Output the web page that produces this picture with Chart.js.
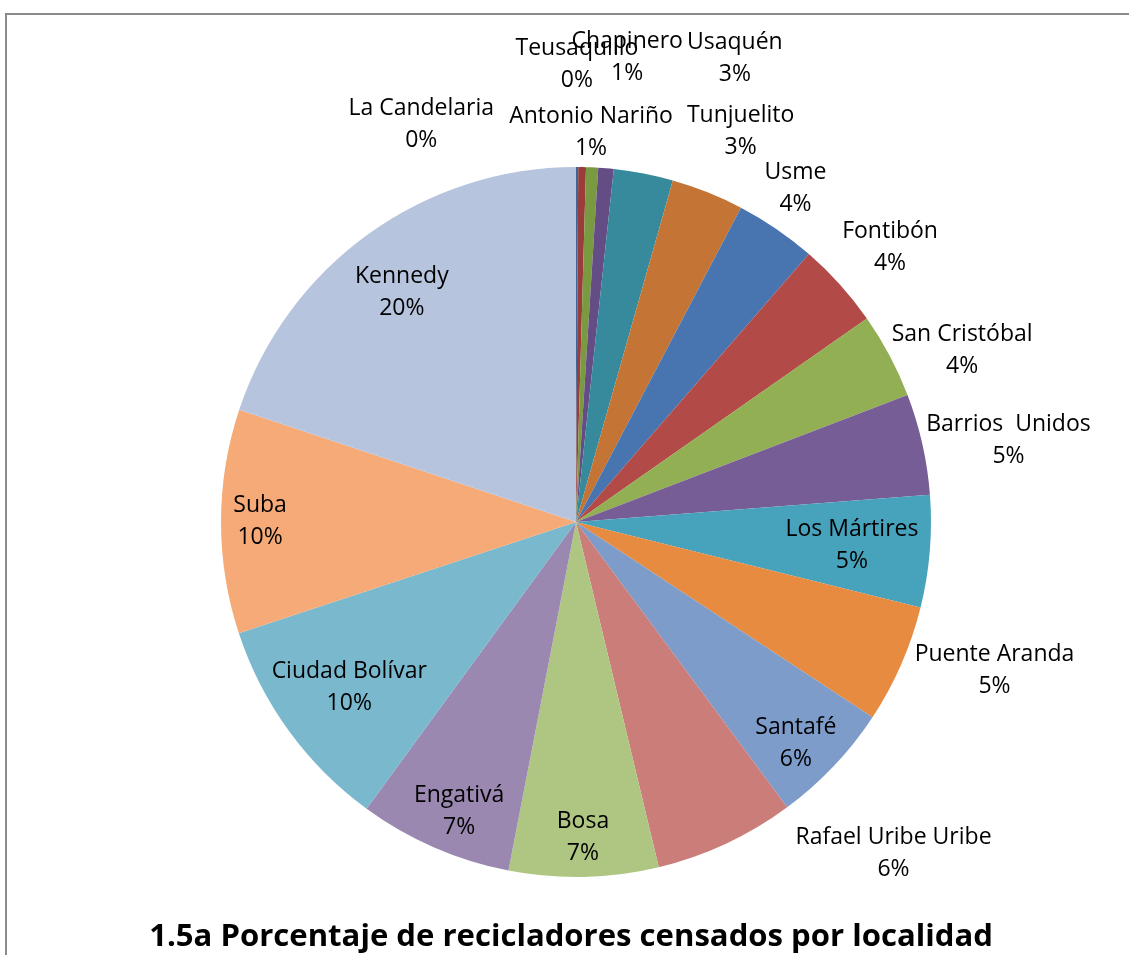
<!DOCTYPE html>
<html>
<head>
<meta charset="utf-8">
<script src="https://cdn.jsdelivr.net/npm/chart.js@4.4.1/dist/chart.umd.min.js"></script>
<style>
  body{margin:0;background:#fff;}
  #wrap{position:relative;width:1129px;height:955px;overflow:hidden;}
</style>
</head>
<body>
<div id="wrap"><canvas id="myChart" width="1129" height="955"></canvas></div>
<script>
// localidades, en el orden del pastel (sentido horario desde arriba)
const localidades = ['La Candelaria','Teusaquillo','Chapinero','Antonio Nariño','Usaquén','Tunjuelito',
  'Usme','Fontibón','San Cristóbal','Barrios  Unidos','Los Mártires','Puente Aranda','Santafé',
  'Rafael Uribe Uribe','Bosa','Engativá','Ciudad Bolívar','Suba','Kennedy'];
// porcentaje de recicladores
const porcentajes = [0.1, 0.35, 0.55, 0.7, 2.7, 3.3, 3.7, 3.9, 3.9, 4.6, 5.1, 5.4, 5.6, 6.4, 6.8, 7.0, 9.9, 10.2, 19.9];
const colores = ['#3D6599','#9A3D3A','#7A9A42','#644D84','#378A9C','#C47535','#4875B0','#B24B48','#93AF53',
  '#775D96','#47A2BB','#E78B40','#7E9CCA','#CB7D7A','#AEC681','#9B88B1','#7AB8CE','#F6AA77','#B7C4DE'];
const titulo = '1.5a Porcentaje de recicladores censados por localidad';

// donde va cada etiqueta: [factor de radio, dx, dy]
const posEtiqueta = [
  [1.12,-156,0],[1.29,-7,0],[1.31,30,0],[1.10,-18,0],[1.33,69,0],[1.19,8,2],
  [1.126,-6,-4],[1.175,4,4],[1.19,13,27],[1.24,3,15],[0.78,0,0],[1.25,12,-30],[0.88,-7,7],
  [1.29,124,-84],[0.89,0,0],[0.88,8,3],[0.79,0,0],[0.89,0,0],[0.81,-6,4]
];

const fuente = '"Open Sans", Lato, sans-serif';

// marco gris del area del grafico
const marco = {
  id:'marco',
  beforeDraw(chart){
    const c = chart.ctx;
    c.save();
    c.fillStyle = '#fff';
    c.fillRect(0,0,chart.width,chart.height);
    c.strokeStyle = '#8a8a8a';
    c.lineWidth = 2;
    c.beginPath();
    c.moveTo(6, chart.height);
    c.lineTo(6, 14);
    c.lineTo(chart.width, 14);
    c.stroke();
    c.restore();
  }
};

// etiquetas de datos y titulo
const etiquetas = {
  id:'etiquetas',
  afterDatasetsDraw(chart){
    const c = chart.ctx;
    const meta = chart.getDatasetMeta(0);
    const total = porcentajes.reduce((a,b)=>a+b,0);
    c.save();
    c.fillStyle = '#000';
    c.textAlign = 'center';
    c.textBaseline = 'middle';
    c.font = '23px ' + fuente;
    meta.data.forEach(function(arc,i){
      const p = arc.getProps(['x','y','startAngle','endAngle','outerRadius'],true);
      const ang = (p.startAngle + p.endAngle)/2;
      const pos = posEtiqueta[i];
      const x = p.x + Math.cos(ang)*p.outerRadius*pos[0] + pos[1];
      const y = p.y + Math.sin(ang)*p.outerRadius*pos[0] + pos[2];
      const pct = Math.round(porcentajes[i]/total*100) + '%';
      c.fillText(localidades[i], x, y-16);
      c.fillText(pct, x, y+16);
    });
    // titulo, ajustado al ancho del original
    let tam = 30;
    c.font = 'bold ' + tam + 'px ' + fuente;
    tam = tam * 845 / c.measureText(titulo).width;
    c.font = 'bold ' + tam.toFixed(1) + 'px ' + fuente;
    c.fillText(titulo, 571, 937);
    c.restore();
  }
};

const ctx = document.getElementById('myChart');

new Chart(ctx, {
    type: 'pie',
    data: {
      labels: localidades,
      datasets: [{
        data: porcentajes,
        backgroundColor: colores,
        borderWidth: 0
      }]
    },
    options: {
      responsive: false,
      animation: false,
      layout: {
        padding: {left: 221, right: 198, top: 167, bottom: 78}
      },
      plugins: {
        legend: {display: false},
        tooltip: {enabled: false}
      }
    },
    plugins: [marco, etiquetas]
});
</script>
</body>
</html>
